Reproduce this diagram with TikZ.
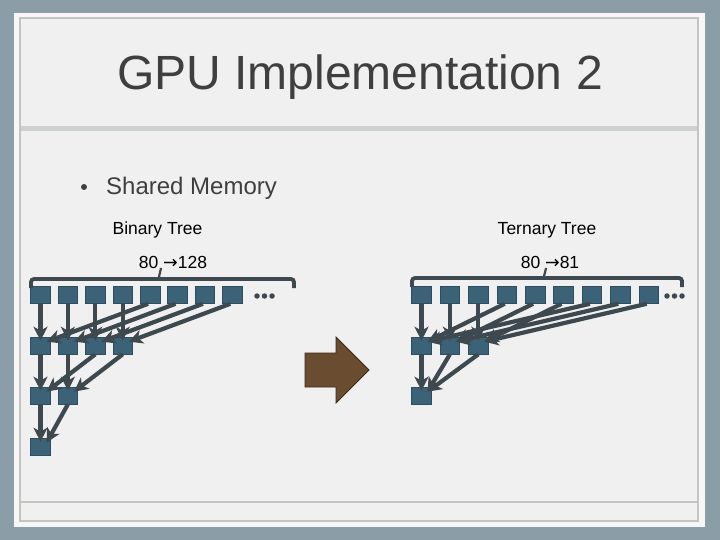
\documentclass[tikz,border=0pt]{standalone}
\usepackage{fontspec}
\setmainfont{Liberation Sans}
\newfontfamily\djv{DejaVu Sans}
\usetikzlibrary{arrows.meta}
\definecolor{bgblue}{HTML}{8B9EA8}
\definecolor{panelw}{HTML}{F7F7F7}
\definecolor{panelin}{HTML}{F0F0F0}
\definecolor{bord}{HTML}{C4C5C0}
\definecolor{sep}{HTML}{CDD1D1}
\definecolor{ttl}{HTML}{3F3F3F}
\definecolor{boxf}{HTML}{3B6276}
\definecolor{boxd}{HTML}{2E4D5E}
\definecolor{arr}{HTML}{3E494F}
\definecolor{brownf}{HTML}{6A4C30}
\definecolor{brownd}{HTML}{3E2C1A}
\tikzset{
  cell/.style={rectangle, fill=boxf, draw=boxd, line width=0.6pt, minimum width=19.5pt, minimum height=17pt, inner sep=0pt},
  red/.style={draw=arr, line width=4.2pt, -{Stealth[length=14pt,width=14pt,inset=4pt]}},
  brace/.style={draw=arr, line width=3.8pt, rounded corners=3pt},
  dotm/.style={circle, fill=arr, inner sep=0pt, minimum size=5.5pt},
  lbl/.style={anchor=base, inner sep=0pt, font=\fontsize{17.5}{20}\selectfont, text=black}
}
\begin{document}
\begin{tikzpicture}[x=1pt,y=-1pt]
\useasboundingbox (0,0) rectangle (720,540);
\fill[bgblue] (0,0) rectangle (720,540);
\fill[panelw] (14,13) rectangle (705,527);
\filldraw[fill=panelin, draw=bord, line width=2pt] (20,18.5) rectangle (697.5,520.5);
\fill[sep] (21,126) rectangle (696.5,131);
\draw[bord, line width=2pt] (21,502) -- (696.5,502);

\node[anchor=base, inner sep=0pt, text=ttl, font=\fontsize{48}{56}\selectfont] (title) at (360,90) {GPU Implementation 2};
\node[anchor=base west, inner sep=0pt, text=ttl, font=\fontsize{24}{28}\selectfont] (sm) at (106,195) {Shared Memory};
\node[circle, fill=ttl, inner sep=0pt, minimum size=6pt] (bul) at (84,187) {};

\node[lbl] (bt) at (157.5,235) {Binary Tree};
\node[lbl] (tt) at (547,235) {Ternary Tree};
\node[lbl] (bn) at (173,268) {80 {\djv →}128};
\node[lbl] (tn) at (550,268) {80 {\djv →}81};

% Binary tree
\foreach \i in {0,...,7} \node[cell] (b0\i) at ({40.5+27.4*\i},295) {};
\foreach \i in {0,...,3} \node[cell] (b1\i) at ({40.5+27.4*\i},345.5) {};
\foreach \i in {0,1} \node[cell] (b2\i) at ({40.5+27.4*\i},395.5) {};
\node[cell] (b30) at (40.5,446.5) {};
\foreach \i in {0,...,3} {
  \pgfmathtruncatemacro{\j}{\i+4}
  \draw[red] (b0\i.south) -- ([yshift=-4pt]b1\i.north);
  \draw[red] ([xshift=-2pt]b0\j.south) -- ([xshift=-4pt,yshift=-5pt]b1\i.north east);
}
\foreach \i in {0,1} {
  \pgfmathtruncatemacro{\j}{\i+2}
  \draw[red] (b1\i.south) -- ([yshift=-4pt]b2\i.north);
  \draw[red] (b1\j.south) -- ([xshift=-4pt,yshift=-5pt]b2\i.north east);
}
\draw[red] (b20.south) -- ([yshift=-4pt]b30.north);
\draw[red] (b21.south) -- ([xshift=-4pt,yshift=-5pt]b30.north east);
\draw[brace] (31,288) -- (31,279) -- (294,279) -- (294,288);
\draw[draw=arr, line width=2.2pt] (159,279) .. controls (159,273) and (161,272) .. (161,268);
\node[dotm] (bd1) at (257,296) {};
\node[dotm] (bd2) at (264.5,296) {};
\node[dotm] (bd3) at (272,296) {};

% Ternary tree
\foreach \i in {0,...,8} \node[cell] (t0\i) at ({421.5+28.4*\i},295) {};
\foreach \i in {0,...,2} \node[cell] (t1\i) at ({421.5+28.4*\i},345.5) {};
\node[cell] (t20) at (421.5,395.5) {};
\foreach \i in {0,...,2} {
  \pgfmathtruncatemacro{\j}{\i+3}
  \pgfmathtruncatemacro{\k}{\i+6}
  \draw[red] (t0\i.south) -- ([yshift=-4pt]t1\i.north);
  \draw[red] ([xshift=-2pt]t0\j.south) -- ([xshift=-4pt,yshift=-5pt]t1\i.north east);
  \draw[red] ([xshift=-2pt]t0\k.south) -- ([xshift=-4pt,yshift=-5pt]t1\i.north east);
}
\draw[red] (t10.south) -- ([yshift=-4pt]t20.north);
\draw[red] (t11.south) -- ([xshift=-4pt,yshift=-5pt]t20.north east);
\draw[red] (t12.south) -- ([xshift=-4pt,yshift=-5pt]t20.north east);
\draw[brace] (412,287) -- (412,278) -- (682,278) -- (682,287);
\draw[draw=arr, line width=2.2pt] (544,278) .. controls (544,273) and (546,272) .. (546,268);
\node[dotm] (td1) at (667,296) {};
\node[dotm] (td2) at (674.5,296) {};
\node[dotm] (td3) at (682,296) {};

% Brown arrow
\filldraw[fill=brownf, draw=brownd, line width=0.8pt] (305,353) -- (336,353) -- (336,337) -- (369,370) -- (336,403) -- (336,387) -- (305,387) -- cycle;
\end{tikzpicture}
\end{document}
